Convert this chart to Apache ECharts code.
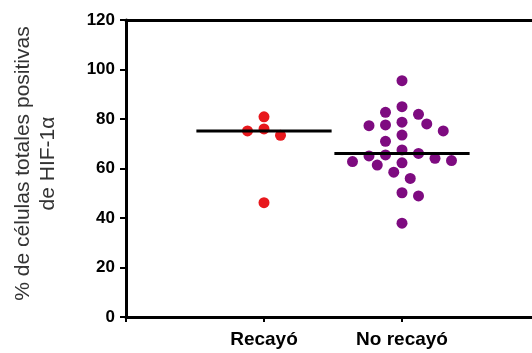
<!DOCTYPE html>
<html>
<head>
<meta charset="utf-8">
<script src="https://cdn.jsdelivr.net/npm/echarts@6/dist/echarts.min.js"></script>
<style>
  html, body { margin: 0; padding: 0; background: #ffffff; }
  #chart { width: 532px; height: 353px; }
</style>
</head>
<body>
<div id="chart"></div>
<script>
// HIF-1α positive cells (% of total cells), patients who relapsed vs. not
const categories = ['Recayó', 'No recayó'];
const recayoValues = [80.9, 75.2, 73.4, 76.0, 46.2];
const noRecayoValues = [
  95.5, 85.0, 82.7, 81.9, 78.7, 78.0, 77.6, 77.3, 75.2, 73.5, 71.0, 67.5, 66.1,
  65.5, 65.1, 64.1, 63.2, 62.8, 62.3, 61.4, 58.5, 56.0, 50.2, 48.9, 37.9
];
const yTicks = [0, 20, 40, 60, 80, 100, 120];
const groupColors = ['#e8181d', '#7e0b80'];
const yTitle = '% de células totales positivas\nde HIF-1α';

const FONT = "'Liberation Sans', Arial, Helvetica, sans-serif";
const DOT = 11;
const categoryPositions = categories.map((c, i) => i + 1);
const X_MAX = categoryPositions.length + 1;   // frame runs on past the last column and off the right edge

const chart = echarts.init(document.getElementById('chart'), null, { renderer: 'canvas' });

const axisLine = { show: true, onZero: false, lineStyle: { color: '#000', width: 3 } };

const base = {
  animation: false,
  backgroundColor: '#ffffff',
  grid: { left: 126, top: 20, width: 414, bottom: 36, containLabel: false, outerBoundsMode: 'none' },
  xAxis: [
    {
      type: 'value', min: 0, max: X_MAX, interval: 1,
      axisLine: axisLine,
      axisTick: { show: true, length: 5, lineStyle: { color: '#000', width: 2 } },
      splitLine: { show: false },
      axisLabel: {
        margin: 13, color: '#000', fontFamily: FONT, fontWeight: 'bold', fontSize: 19,
        formatter: v => {
          const i = categoryPositions.indexOf(v);
          return i >= 0 ? categories[i] : '';
        }
      }
    },
    {
      type: 'value', position: 'top', min: 0, max: X_MAX,
      axisLine: axisLine, axisTick: { show: false }, axisLabel: { show: false }, splitLine: { show: false }
    }
  ],
  yAxis: {
    type: 'value',
    min: yTicks[0], max: yTicks[yTicks.length - 1], interval: yTicks[1] - yTicks[0],
    axisLine: axisLine,
    axisTick: { show: true, length: 6, lineStyle: { color: '#000', width: 2 } },
    splitLine: { show: false },
    axisLabel: { margin: 11, color: '#000', fontFamily: FONT, fontWeight: 'bold', fontSize: 17 },
    name: yTitle,
    nameLocation: 'middle',
    nameRotate: 90,
    nameGap: 65,
    nameTextStyle: { color: '#333', fontFamily: FONT, fontSize: 21, lineHeight: 25, padding: [0, 0, 0, 10] }
  },
  series: []
};
chart.setOption(base);

// pixel scale of each axis, taken from the chart itself
const p0 = chart.convertToPixel({ gridIndex: 0 }, [0, 0]);
const p1 = chart.convertToPixel({ gridIndex: 0 }, [1, 1]);
const pxPerX = Math.abs(p1[0] - p0[0]);
const pxPerY = Math.abs(p1[1] - p0[1]);

// beeswarm layout: each dot (highest first) goes to the free slot nearest the
// column centre; ties between left and right alternate sides
function swarmOffsets(values) {
  const step = DOT * 0.75;
  const minDist = DOT * 1.1;
  const order = values.map((v, i) => i).sort((a, b) => values[b] - values[a]);
  const placed = [];
  const offsets = new Array(values.length).fill(0);
  let preferLeft = true;
  const free = (x, y) => placed.every(p => Math.hypot(p.x - x, p.y - y) >= minDist);
  for (const i of order) {
    const y = values[i] * pxPerY;
    for (let s = 0; s < 60; s++) {
      let x = null;
      if (s === 0) {
        if (free(0, y)) x = 0;
      } else {
        const l = free(-s * step, y), r = free(s * step, y);
        if (l && r) { x = (preferLeft ? -1 : 1) * s * step; preferLeft = !preferLeft; }
        else if (l) x = -s * step;
        else if (r) x = s * step;
      }
      if (x !== null) {
        placed.push({ x, y });
        offsets[i] = x / pxPerX;
        break;
      }
    }
  }
  return offsets;
}

function median(values) {
  const s = values.slice().sort((a, b) => a - b);
  const m = Math.floor(s.length / 2);
  return s.length % 2 ? s[m] : (s[m - 1] + s[m]) / 2;
}

const groups = [recayoValues, noRecayoValues];
const series = [];
groups.forEach((vals, g) => {
  const centre = categoryPositions[g];
  const off = swarmOffsets(vals);
  series.push({
    type: 'scatter',
    name: categories[g],
    symbol: 'circle',
    symbolSize: DOT,
    itemStyle: { color: groupColors[g], opacity: 1 },
    data: vals.map((v, i) => [centre + off[i], v]),
    z: 2
  });
  const med = median(vals);
  series.push({
    type: 'line',
    name: categories[g] + ' mediana',
    symbol: 'none',
    lineStyle: { color: '#000', width: 3 },
    data: [[centre - 0.49, med], [centre + 0.49, med]],
    z: 5
  });
});

chart.setOption({ series: series });
</script>
</body>
</html>
